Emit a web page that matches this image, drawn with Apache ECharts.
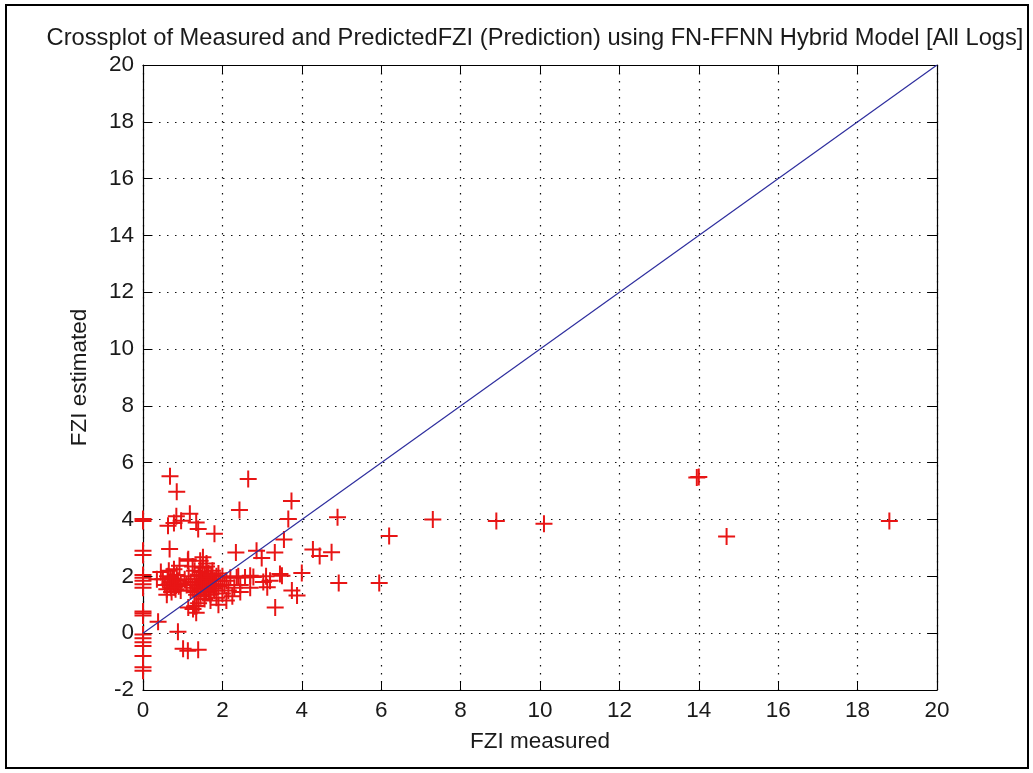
<!DOCTYPE html>
<html>
<head>
<meta charset="utf-8">
<title>FZI crossplot</title>
<script src="https://cdn.jsdelivr.net/npm/echarts@6/dist/echarts.min.js"></script>
<style>
  html, body { margin: 0; padding: 0; background: #ffffff; }
  #chart { width: 1033px; height: 773px; }
</style>
</head>
<body>
<div id="chart"></div>
<script>
// FZI measured (x) against FZI estimated by the FN-FFNN hybrid model (y)
const fziMeasured = [
  18.8, 14.7, 14.0, 13.95, 10.1, 8.9, 7.3, 6.2, 5.95, 4.93,
  4.9, 4.75, 4.45, 4.28, 4.0, 3.88, 3.75, 3.74, 3.66, 3.55,
  3.5, 3.33, 3.32, 3.13, 3.03, 2.99, 2.86, 2.78, 2.7, 2.7,
  2.65, 2.57, 2.43, 2.36, 2.34, 2.3, 2.45, 3.1, 3.2, 3.45,
  0, 0, 0, 0, 0, 0, 0, 0, 0, 0,
  0, 0, 0, 0, 0, 0, 0, 0, 0,
  0.68, 0.85, 0.84, 0.63, 0.96, 1.18, 1.34, 1.39, 1.8, 0.67,
  1.13, 1.51, 0.92, 1.44, 1.6, 1.14, 0.78,
  0.38, 0.88, 1.01, 1.13, 1.39, 1.26, 1.34, 1.9, 1.14, 1.35,
  0.5, 0.55, 0.6, 0.62, 0.68, 0.7, 0.72, 0.75, 0.8, 0.82,
  0.85, 0.88, 0.9, 0.95, 0.65, 0.45, 0.35, 0.78, 0.95, 0.6,
  1.15, 1.2, 1.25, 1.3, 1.3, 1.35, 1.4, 1.4, 1.45, 1.45,
  1.5, 1.5, 1.55, 1.55, 1.6, 1.6, 1.65, 1.65, 1.7, 1.7,
  1.75, 1.75, 1.8, 1.8, 1.85, 1.85, 1.9, 1.95, 1.2, 1.35,
  1.55, 1.25, 1.45, 1.6, 1.7, 1.9, 1.1, 1.05, 1.4, 1.3,
  2.0, 2.05, 2.1, 2.15, 2.2, 2.25, 2.4, 2.45, 2.1, 2.0,
  1.38, 1.48, 1.58, 1.68, 1.78, 1.42, 1.52, 1.62, 1.72, 1.82,
  1.47, 1.57, 1.67, 0.66, 0.74, 0.83, 0.7, 0.79
];
const fziEstimated = [
  3.95, 3.4, 5.5, 5.48, 3.85, 3.95, 4.0, 3.42, 1.77, 1.77,
  4.08, 2.85, 2.72, 2.95, 2.12, 1.33, 1.5, 4.65, 4.02, 3.3,
  2.02, 0.9, 2.84, 1.62, 1.8, 2.65, 2.9, 1.98, 2.02, 1.6,
  5.43, 1.96, 4.34, 1.96, 2.84, 1.6, 1.45, 2.0, 1.85, 2.08,
  4.02, 3.95, 2.9, 2.75, 2.05, 1.95, 1.85, 1.72, 1.6, 0.76,
  0.7, 0.62, -0.05, -0.18, -0.32, -0.45, -0.8, -1.2, -1.32,
  5.52, 4.98, 4.12, 3.78, 3.96, 4.2, 3.9, 3.67, 3.5, 2.96,
  2.55, 2.67, 2.37, 2.55, 2.45, 2.6, 3.88,
  0.4, 0.05, -0.55, -0.62, -0.58, 0.85, 0.72, 1.0, 0.9, 0.96,
  1.9, 1.7, 1.55, 2.0, 1.8, 1.6, 1.45, 1.9, 1.7, 1.55,
  2.05, 1.85, 1.65, 1.75, 2.2, 2.15, 1.9, 2.25, 1.5, 1.35,
  2.0, 1.8, 1.6, 2.2, 1.45, 1.9, 1.7, 2.05, 1.55, 1.3,
  1.85, 2.3, 1.65, 2.0, 1.45, 1.8, 2.1, 1.6, 1.35, 1.9,
  1.7, 2.2, 1.5, 1.85, 2.0, 1.25, 1.65, 1.85, 1.5, 1.35,
  1.2, 2.35, 2.15, 2.35, 1.15, 2.1, 1.7, 1.9, 1.05, 0.95,
  2.0, 1.7, 1.85, 1.5, 1.95, 1.3, 2.0, 1.7, 1.15, 1.4,
  1.62, 1.75, 1.88, 1.72, 1.58, 2.0, 1.55, 1.95, 2.05, 1.72,
  1.9, 1.42, 1.5, 1.72, 1.82, 1.68, 1.95, 1.62
];

// 1:1 reference line
const lineX = [0, 20];
const lineY = [0, 20];

// axis tick values
const xTicks = [0, 2, 4, 6, 8, 10, 12, 14, 16, 18, 20];
const yTicks = [-2, 0, 2, 4, 6, 8, 10, 12, 14, 16, 18, 20];

const titleText = 'Crossplot of Measured and PredictedFZI (Prediction) using FN-FFNN Hybrid Model [All Logs]';
const xName = 'FZI measured';
const yName = 'FZI estimated';

const points = fziMeasured.map((v, i) => [v, fziEstimated[i]]);
const refLine = lineX.map((v, i) => [v, lineY[i]]);

const FONT = '"Liberation Sans", Arial, sans-serif';
const TEXT = '#1a1a1a';
const PLUS = 'path://M7.5,0H9.5V7.5H17V9.5H9.5V17H7.5V9.5H0V7.5H7.5Z';

const chart = echarts.init(document.getElementById('chart'), null, { renderer: 'canvas' });

const tickStyle = { show: true, inside: true, length: 9, lineStyle: { color: '#000', width: 1 } };
const lineAxis = { show: true, onZero: false, lineStyle: { color: '#000', width: 1.2 } };
const gridDots = { show: true, lineStyle: { color: '#111', width: 1.2, type: [1.5, 6.5] } };

chart.setOption({
  animation: false,
  backgroundColor: '#ffffff',
  grid: { left: 143, top: 65, width: 794, height: 625, containLabel: false },
  graphic: [
    {
      type: 'rect',
      shape: { x: 6, y: 5, width: 1022, height: 763 },
      style: { fill: 'none', stroke: '#000', lineWidth: 2 },
      z: 100
    },
    {
      type: 'text',
      x: 535, y: 38,
      style: {
        text: titleText, font: '23.7px ' + FONT, fill: TEXT,
        align: 'center', verticalAlign: 'middle'
      }
    }
  ],
  xAxis: [
    {
      type: 'value', min: xTicks[0], max: xTicks[xTicks.length - 1], interval: 2,
      position: 'bottom',
      name: xName, nameLocation: 'middle', nameGap: 40,
      nameTextStyle: { fontFamily: FONT, fontSize: 22.5, color: TEXT },
      axisLine: lineAxis, axisTick: tickStyle, splitLine: gridDots,
      axisLabel: { fontFamily: FONT, fontSize: 22.5, color: TEXT, margin: 9 }
    },
    {
      type: 'value', min: xTicks[0], max: xTicks[xTicks.length - 1], interval: 2,
      position: 'top',
      axisLine: lineAxis, axisTick: tickStyle, splitLine: { show: false },
      axisLabel: { show: false }
    }
  ],
  yAxis: [
    {
      type: 'value', min: yTicks[0], max: yTicks[yTicks.length - 1], interval: 2,
      position: 'left',
      name: yName, nameLocation: 'middle', nameGap: 52,
      nameTextStyle: { fontFamily: FONT, fontSize: 22.5, color: TEXT },
      axisLine: lineAxis, axisTick: tickStyle, splitLine: gridDots,
      axisLabel: { fontFamily: FONT, fontSize: 22.5, color: TEXT, margin: 9 }
    },
    {
      type: 'value', min: yTicks[0], max: yTicks[yTicks.length - 1], interval: 2,
      position: 'right',
      axisLine: lineAxis, axisTick: tickStyle, splitLine: { show: false },
      axisLabel: { show: false }
    }
  ],
  series: [
    {
      type: 'scatter',
      xAxisIndex: 0, yAxisIndex: 0,
      data: points,
      symbol: PLUS,
      symbolSize: 17,
      clip: false,
      itemStyle: { color: '#e81515', opacity: 1 },
      silent: true,
      z: 3
    },
    {
      type: 'line',
      xAxisIndex: 0, yAxisIndex: 0,
      data: refLine,
      showSymbol: false,
      symbol: 'none',
      lineStyle: { color: '#2e2e9e', width: 1.2 },
      silent: true,
      z: 4
    }
  ]
});
</script>
</body>
</html>
